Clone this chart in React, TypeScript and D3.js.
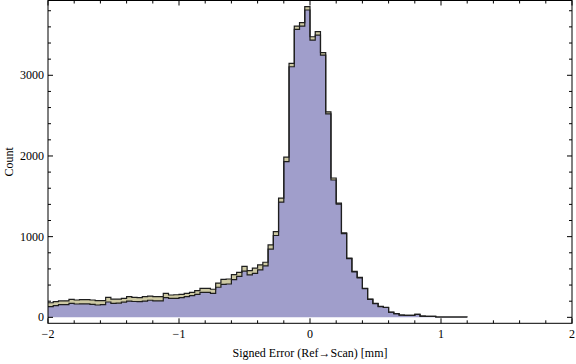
import * as d3 from "d3";

const W = 576;
const H = 364;

// histogram bins: 0.04 wide, starting at -2
const BIN_START = -2;
const BIN_WIDTH = 0.04;

// lower (purple) series counts per bin
const purpleCounts = [
  132, 144, 158, 157, 173, 165, 166, 168, 160, 153,
  157, 190, 173, 175, 188, 201, 196, 194, 202, 212,
  203, 203, 244, 236, 236, 244, 256, 269, 285, 310,
  310, 298, 373, 408, 413, 467, 508, 572, 525, 546,
  588, 637, 845, 1014, 1429, 1930, 3106, 3569, 3610, 3809,
  3436, 3499, 3250, 2522, 1702, 1404, 1037, 727, 562, 489,
  355, 223, 171, 132, 122, 63, 46, 28, 24, 24,
  36, 15, 11, 11, 4, 4, 4, 4, 4, 4,
];

// upper (khaki) series counts per bin, stacked on top
const khakiCounts = [
  49, 50, 45, 48, 50, 50, 54, 52, 55, 54,
  50, 58, 52, 50, 48, 55, 52, 50, 54, 50,
  53, 53, 54, 41, 44, 41, 42, 41, 46, 50,
  50, 50, 52, 62, 62, 63, 48, 60, 55, 63,
  62, 46, 53, 49, 49, 55, 41, 41, 42, 42,
  42, 41, 30, 25, 25, 12, 10, 8, 8, 6,
  5, 4, 3, 3, 2, 1, 1, 1, 1, 1,
  1, 1, 1, 1, 0, 0, 0, 0, 0, 0,
];

const xMajor = [-2, -1, 0, 1, 2];
const yMajor = [0, 1000, 2000, 3000];

const X_TITLE = "Signed Error (Ref\u2192Scan) [mm]";
const Y_TITLE = "Count";

const PURPLE = "#a09ecb";
const KHAKI = "#cdc9a3";
const EDGE = "#1e1e1e";

const LEFT = 48;
const RIGHT = 572;
const TOP = 0.5;
const BOTTOM = 323.3;

type Pt = [number, number];

export default function App() {
  const x = d3.scaleLinear().domain([-2, 2]).range([LEFT, RIGHT]);
  const y = d3.scaleLinear().domain([-74, 3927]).range([BOTTOM, TOP]);

  const n = purpleCounts.length;
  const starts = d3.range(n).map((i) => BIN_START + i * BIN_WIDTH);
  const end = BIN_START + n * BIN_WIDTH;

  const purplePts: Pt[] = starts.map((s, i) => [s, purpleCounts[i]]);
  purplePts.push([end, purpleCounts[n - 1]]);
  const totalPts: Pt[] = starts.map((s, i) => [s, purpleCounts[i] + khakiCounts[i]]);
  totalPts.push([end, purpleCounts[n - 1] + khakiCounts[n - 1]]);

  const purpleArea = d3
    .area<Pt>()
    .x((d) => x(d[0]))
    .y0(y(0))
    .y1((d) => y(d[1]))
    .curve(d3.curveStepAfter);

  const bandPts = starts.map((s, i) => ({ s, lo: purpleCounts[i], hi: purpleCounts[i] + khakiCounts[i] }));
  bandPts.push({ s: end, lo: purpleCounts[n - 1], hi: purpleCounts[n - 1] + khakiCounts[n - 1] });
  const khakiArea = d3
    .area<{ s: number; lo: number; hi: number }>()
    .x((d) => x(d.s))
    .y0((d) => y(d.lo))
    .y1((d) => y(d.hi))
    .curve(d3.curveStepAfter);

  const stepLine = d3
    .line<Pt>()
    .x((d) => x(d[0]))
    .y((d) => y(d[1]))
    .curve(d3.curveStepAfter);

  const totalOutline: Pt[] = [...totalPts, [end, 0]];

  const xMinor = d3.range(-2, 2.0001, 0.2).filter((v) => !xMajor.some((m) => Math.abs(m - v) < 1e-6));
  const yMinor = d3.range(0, 3801, 200).filter((v) => v % 1000 !== 0);

  const fmt = (v: number) => (v < 0 ? "\u2212" + Math.abs(v) : String(v));
  const font = "'Liberation Serif', 'Times New Roman', serif";

  return (
    <svg width={W} height={H} style={{ position: "absolute", left: 0, top: 0, background: "#fff" }}>
      <path d={purpleArea(purplePts) ?? ""} fill={PURPLE} />
      <path d={khakiArea(bandPts) ?? ""} fill={KHAKI} />
      <path d={stepLine(purplePts) ?? ""} fill="none" stroke={EDGE} strokeWidth={1.2} />
      <path d={stepLine(totalOutline) ?? ""} fill="none" stroke={EDGE} strokeWidth={1.2} />

      {/* frame */}
      <rect x={LEFT} y={TOP} width={RIGHT - LEFT} height={BOTTOM - TOP} fill="none" stroke="#000" strokeWidth={1} />

      {/* x ticks */}
      {xMajor.map((v) => (
        <g key={"xm" + v}>
          <line x1={x(v)} x2={x(v)} y1={BOTTOM} y2={BOTTOM - 5} stroke="#000" />
          <line x1={x(v)} x2={x(v)} y1={TOP} y2={TOP + 5} stroke="#000" />
          <text x={x(v)} y={338} textAnchor="middle" fontFamily={font} fontSize={12}>
            {fmt(v)}
          </text>
        </g>
      ))}
      {xMinor.map((v, i) => (
        <g key={"xn" + i}>
          <line x1={x(v)} x2={x(v)} y1={BOTTOM} y2={BOTTOM - 3} stroke="#000" />
          <line x1={x(v)} x2={x(v)} y1={TOP} y2={TOP + 3} stroke="#000" />
        </g>
      ))}

      {/* y ticks */}
      {yMajor.map((v) => (
        <g key={"ym" + v}>
          <line x1={LEFT} x2={LEFT + 5} y1={y(v)} y2={y(v)} stroke="#000" />
          <line x1={RIGHT} x2={RIGHT - 5} y1={y(v)} y2={y(v)} stroke="#000" />
          <text x={LEFT - 4} y={y(v) + 4} textAnchor="end" fontFamily={font} fontSize={12}>
            {fmt(v)}
          </text>
        </g>
      ))}
      {yMinor.map((v) => (
        <g key={"yn" + v}>
          <line x1={LEFT} x2={LEFT + 3} y1={y(v)} y2={y(v)} stroke="#000" />
          <line x1={RIGHT} x2={RIGHT - 3} y1={y(v)} y2={y(v)} stroke="#000" />
        </g>
      ))}

      <text x={(LEFT + RIGHT) / 2} y={357} textAnchor="middle" fontFamily={font} fontSize={12}>
        {X_TITLE}
      </text>
      <text
        transform={`translate(13, ${(TOP + BOTTOM) / 2}) rotate(-90)`}
        textAnchor="middle"
        fontFamily={font}
        fontSize={12}
      >
        {Y_TITLE}
      </text>
    </svg>
  );
}
